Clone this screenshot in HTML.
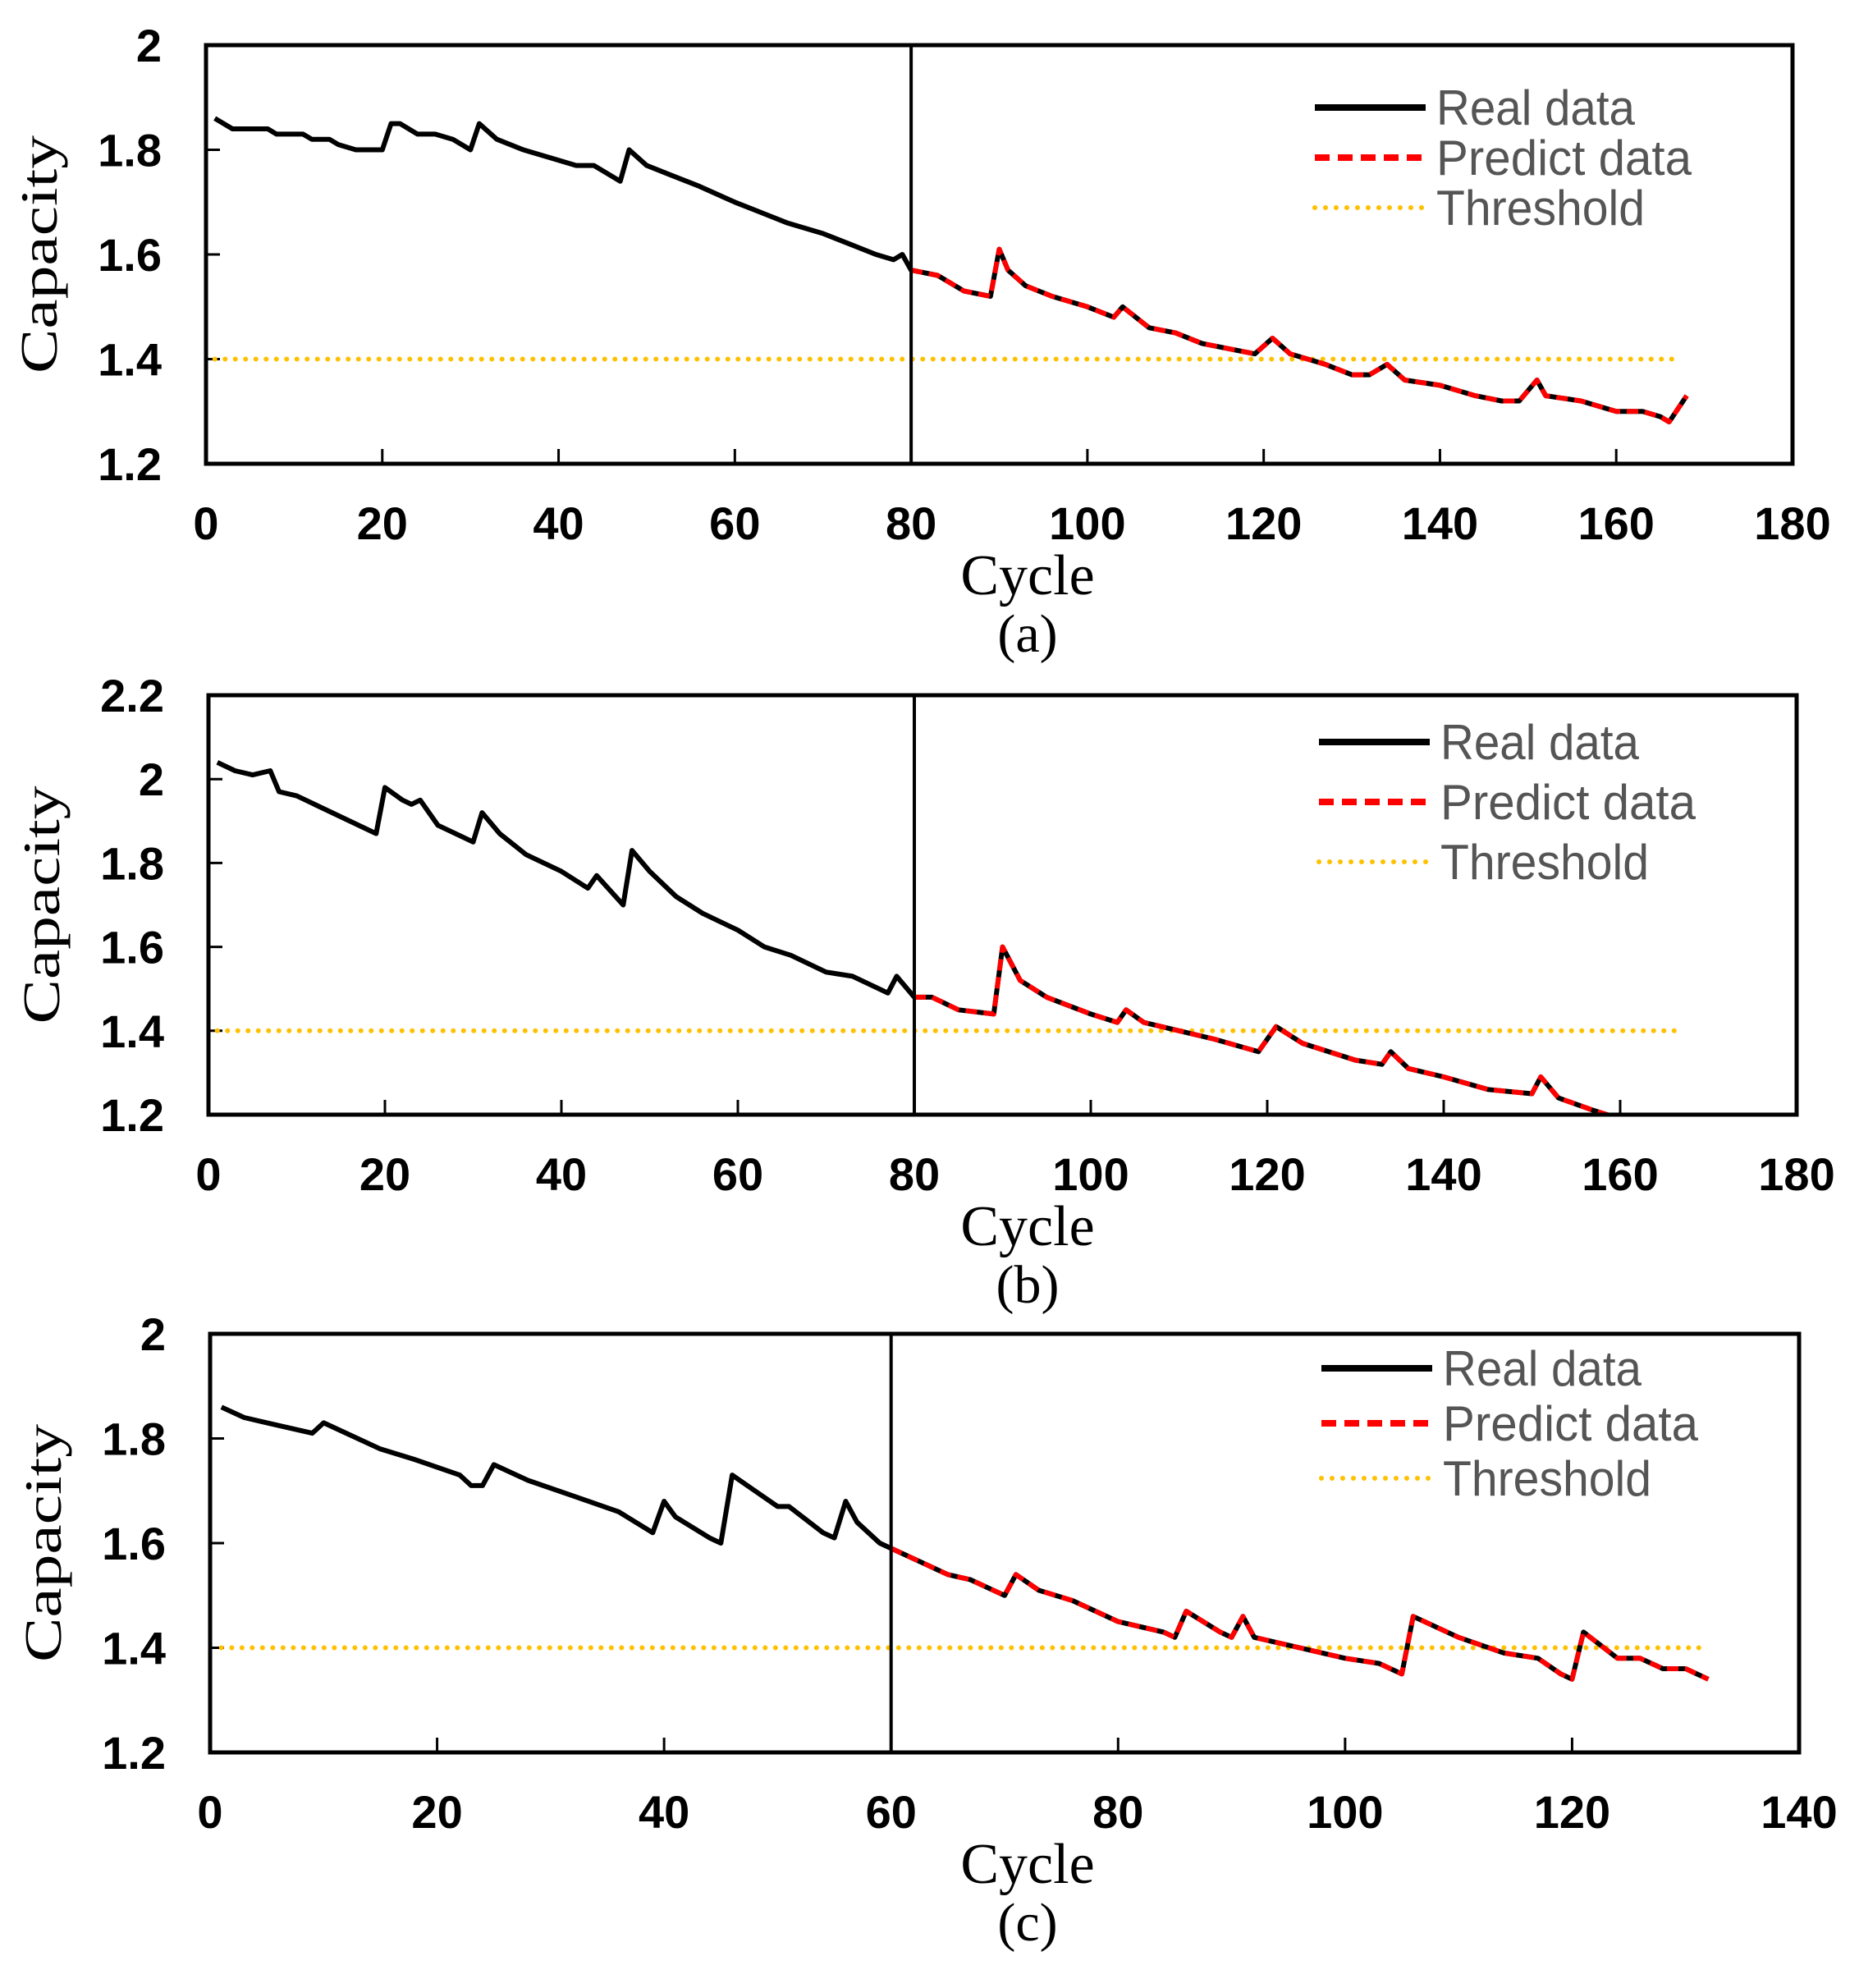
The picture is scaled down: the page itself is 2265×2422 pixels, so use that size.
<!DOCTYPE html>
<html><head><meta charset="utf-8"><style>
html,body{margin:0;padding:0;background:#fff;}
svg{display:block;}
.tick{font-family:"Liberation Sans",sans-serif;font-weight:bold;font-size:56px;fill:#000;}
.ser{font-family:"Liberation Serif",serif;fill:#000;}
.leg{font-family:"Liberation Sans",sans-serif;font-size:60px;fill:#555;}
</style></head><body>
<svg id="fig" width="2265" height="2422" viewBox="0 0 2265 2422" xmlns="http://www.w3.org/2000/svg"></svg>
<script>
// Panel (a)
const aCycles=[1,3,7,8,11,12,14,15,17,20,21,22,24,26,28,30,31,33,36,40,42,44,47,48,50,53,56,60,63,66,70,73,76,78,79,80,83,86,89,90,91,93,96,100,103,104,107,110,113,116,119,121,123,127,130,132,134,136,140,144,147,149,151,152,156,160,163,165,166,168];
const aCap=[1.86,1.84,1.84,1.83,1.83,1.82,1.82,1.81,1.80,1.80,1.85,1.85,1.83,1.83,1.82,1.80,1.85,1.82,1.80,1.78,1.77,1.77,1.74,1.80,1.77,1.75,1.73,1.70,1.68,1.66,1.64,1.62,1.60,1.59,1.60,1.57,1.56,1.53,1.52,1.61,1.57,1.54,1.52,1.50,1.48,1.50,1.46,1.45,1.43,1.42,1.41,1.44,1.41,1.39,1.37,1.37,1.39,1.36,1.35,1.33,1.32,1.32,1.36,1.33,1.32,1.30,1.30,1.29,1.28,1.33];
const aXTicks=[0,20,40,60,80,100,120,140,160,180];
const aYTicks=[1.2,1.4,1.6,1.8,2];
// Panel (b)
const bCycles=[1,3,5,7,8,10,19,20,22,23,24,26,30,31,33,36,40,43,44,47,48,50,53,56,60,63,66,70,73,77,78,80,82,85,89,90,92,95,100,103,104,106,110,114,119,121,124,130,133,134,136,140,145,150,151,153,157,160];
const bCap=[2.04,2.02,2.01,2.02,1.97,1.96,1.87,1.98,1.95,1.94,1.95,1.89,1.85,1.92,1.87,1.82,1.78,1.74,1.77,1.70,1.83,1.78,1.72,1.68,1.64,1.60,1.58,1.54,1.53,1.49,1.53,1.48,1.48,1.45,1.44,1.60,1.52,1.48,1.44,1.42,1.45,1.42,1.40,1.38,1.35,1.41,1.37,1.33,1.32,1.35,1.31,1.29,1.26,1.25,1.29,1.24,1.21,1.19];
const bXTicks=[0,20,40,60,80,100,120,140,160,180];
const bYTicks=[1.2,1.4,1.6,1.8,2,2.2];
// Panel (c)
const cCycles=[1,3,5,9,10,12,15,18,22,23,24,25,28,32,36,39,40,41,44,45,46,48,50,51,54,55,56,57,59,60,62,65,67,70,71,73,76,80,84,85,86,89,90,91,92,96,100,103,105,106,110,114,117,119,120,121,124,126,128,130,131,132];
const cCap=[1.86,1.84,1.83,1.81,1.83,1.81,1.78,1.76,1.73,1.71,1.71,1.75,1.72,1.69,1.66,1.62,1.68,1.65,1.61,1.60,1.73,1.70,1.67,1.67,1.62,1.61,1.68,1.64,1.60,1.59,1.57,1.54,1.53,1.50,1.54,1.51,1.49,1.45,1.43,1.42,1.47,1.43,1.42,1.46,1.42,1.40,1.38,1.37,1.35,1.46,1.42,1.39,1.38,1.35,1.34,1.43,1.38,1.38,1.36,1.36,1.35,1.34];
const cXTicks=[0,20,40,60,80,100,120,140];
const cYTicks=[1.2,1.4,1.6,1.8,2];

const NS="http://www.w3.org/2000/svg";
const svg=document.getElementById('fig');
function mk(tag,attrs,parent){const e=document.createElementNS(NS,tag);for(const k in attrs)e.setAttribute(k,attrs[k]);(parent||svg).appendChild(e);return e;}

function panel(id,box,xMax,yMin,yMax,xTicks,yTicks,cycles,cap,splitX,thrEnd,letter,legTop,legGap){
  const g=mk('g',{});
  
  
  const L=box[0],T=box[1],R=box[2],B=box[3];
  const sx=v=>L+(v/xMax)*(R-L);
  const sy=v=>B-(v-yMin)/(yMax-yMin)*(B-T);
  const cp=mk('clipPath',{id:'clip'+id},g);
  mk('rect',{x:L,y:T,width:R-L,height:B-T},cp);
  xTicks.forEach(t=>{
    if(t>0&&t<xMax){const tk=mk('line',{x1:sx(t),x2:sx(t),y1:B,y2:B-18,stroke:'#000','stroke-width':3},g);
    
    }
    const tl=mk('text',{x:sx(t),y:B+92,'text-anchor':'middle',class:'tick'},g);
    tl.textContent=t;
    
    
  });
  yTicks.forEach(t=>{
    const y=sy(t);
    if(t>yMin&&t<yMax){const tk=mk('line',{x1:L,x2:L+17,y1:y,y2:y,stroke:'#000','stroke-width':3},g);
    
    }
    const tl=mk('text',{x:L-54,y:y+20,'text-anchor':'end',class:'tick'},g);
    tl.textContent=String(t);
    
    
  });
  const th=mk('line',{x1:sx(1),x2:sx(thrEnd),y1:sy(1.4),y2:sy(1.4),stroke:'#FFC000','stroke-width':6,'stroke-dasharray':'0 12.5','stroke-linecap':'round'},g);
  
  
  const pts=cycles.map((c,i)=>sx(c).toFixed(1)+','+sy(cap[i]).toFixed(1)).join(' ');
  const real=mk('polyline',{points:pts,fill:'none',stroke:'#000','stroke-width':6,'stroke-linejoin':'round','clip-path':'url(#clip'+id+')'},g);
  
  
  const pp=[];cycles.forEach((c,i)=>{if(c>=splitX)pp.push(sx(c).toFixed(1)+','+sy(cap[i]).toFixed(1));});
  const pred=mk('polyline',{points:pp.join(' '),fill:'none',stroke:'#FF0000','stroke-width':6,'stroke-dasharray':'14 8','stroke-linejoin':'round','clip-path':'url(#clip'+id+')'},g);
  
  
  const sp=mk('line',{x1:sx(splitX),x2:sx(splitX),y1:T,y2:B,stroke:'#000','stroke-width':4},g);
  
  
  const fr=mk('rect',{x:L,y:T,width:R-L,height:B-T,fill:'none',stroke:'#000','stroke-width':5},g);
  
  
  const yl=mk('text',{x:0,y:0,class:'ser','font-size':64,'text-anchor':'middle',transform:'translate('+(L-182)+','+((T+B)/2)+') rotate(-90)',textLength:290,lengthAdjust:'spacingAndGlyphs'},g);
  yl.textContent='Capacity';
  
  
  const xl=mk('text',{x:1252,y:B+159,class:'ser','font-size':70,'text-anchor':'middle'},g);
  xl.textContent='Cycle';
  
  
  const cl=mk('text',{x:1252,y:B+229,class:'ser','font-size':66,'text-anchor':'middle'},g);
  cl.textContent='('+letter+')';
  
  
  const lx=R-582, ly=T+legTop;
  const items=[['Real data',242,{stroke:'#000','stroke-width':8}],['Predict data',311,{stroke:'#FF0000','stroke-width':8,'stroke-dasharray':'18 10'}],['Threshold',254,{stroke:'#FFC000','stroke-width':6,'stroke-dasharray':'0 13','stroke-linecap':'round'}]];
  items.forEach((it,i)=>{
    const y=ly+i*legGap;
    const a=Object.assign({x1:lx,x2:lx+135,y1:y,y2:y},it[2]);
    const ln=mk('line',a,g);
    
    
    const tx=mk('text',{x:lx+148,y:y+21,class:'leg',textLength:it[1],lengthAdjust:'spacingAndGlyphs'},g);
    tx.textContent=it[0];
    
    
  });
}
panel('a',[251,55,2184,565],180,1.2,2,aXTicks,aYTicks,aCycles,aCap,80,167,'a',76,61);
panel('b',[254,847,2189,1358],180,1.2,2.2,bXTicks,bYTicks,bCycles,bCap,80,167,'b',57,73);
panel('c',[256,1625,2192,2135],140,1.2,2,cXTicks,cYTicks,cCycles,cCap,60,132,'c',42,67);
</script>
</body></html>
